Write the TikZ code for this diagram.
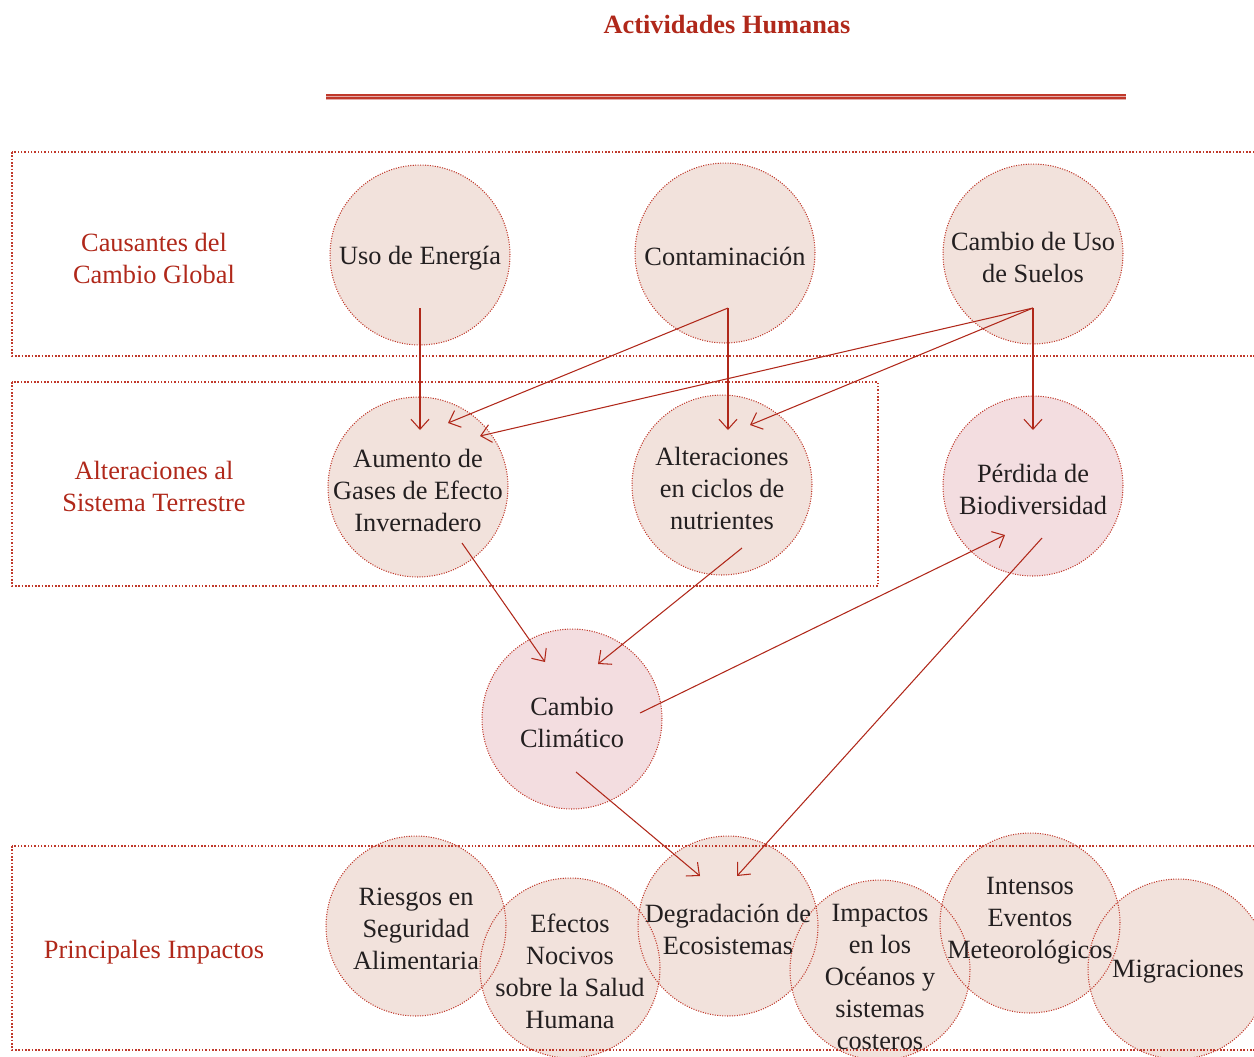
\documentclass[tikz,border=0pt]{standalone}
\usepackage{fontspec}
\setmainfont{Liberation Serif}
\usetikzlibrary{arrows.meta,backgrounds}
\definecolor{rojo}{HTML}{B0281A}
\definecolor{punteado}{HTML}{C0392B}
\definecolor{crema}{HTML}{F2E2DC}
\definecolor{rosa}{HTML}{F3DDE0}
\definecolor{tinta}{HTML}{231F20}
\newcommand{\fuente}{\fontsize{15}{18.2}\selectfont}
\begin{document}
\begin{tikzpicture}[x=0.02cm, y=-0.02cm,
    burbuja/.style = {circle, minimum size=3.6cm, inner sep=0pt, align=center, font=\fuente, text=tinta, yshift=-0.06cm},
    etiqueta/.style = {align=center, font=\fuente, text=rojo},
    marco/.style = {draw=punteado, line width=0.9pt, dash pattern=on 0.9pt off 1pt},
    contorno/.style = {draw=punteado, line width=0.6pt, dash pattern=on 0.6pt off 0.8pt},
    flecha/.style = {draw=rojo, line width=0.6pt, -{Straight Barb[length=2mm,width=3.6mm]}}]
    \useasboundingbox (0,0) rectangle (1254,1056);

    % Titulo y filete
    \node[font=\fontsize{15}{18}\selectfont\bfseries, text=rojo] (titulo) at (727,25) {Actividades Humanas};
    \fill[rosa!70!punteado] (326,95) rectangle (1126,99.5);
    \draw[punteado, line width=0.7pt] (326,95) -- (1126,95);
    \draw[punteado, line width=0.7pt] (326,98) -- (1126,98);

    % Etiquetas de los niveles
    \node[etiqueta] (causantes) at (154,258) {Causantes del\\Cambio Global};
    \node[etiqueta] (alteraciones) at (154,486) {Alteraciones al\\Sistema Terrestre};
    \node[etiqueta] (principales) at (154,952) {Principales Impactos};

    % Los nodos
    \node[burbuja] (uso) at (420,255) {Uso de Energ\'ia};
    \node[burbuja] (contam) at (725,253) {Contaminaci\'on};
    \node[burbuja] (suelos) at (1033,254) {Cambio de Uso\\de Suelos};

    \node[burbuja] (aumento) at (418,487) {Aumento de\\Gases de Efecto\\Invernadero};
    \node[burbuja] (ciclos) at (722,485) {Alteraciones\\en ciclos de\\nutrientes};
    \node[burbuja] (perdida) at (1033,486) {P\'erdida de\\Biodiversidad};

    \node[burbuja] (climatico) at (572,719) {Cambio\\Clim\'atico};

    \node[burbuja] (riesgos) at (416,926) {Riesgos en\\Seguridad\\Alimentaria};
    \node[burbuja] (efectos) at (570,968) {Efectos\\Nocivos\\sobre la Salud\\Humana};
    \node[burbuja] (degradacion) at (728,926) {Degradaci\'on de\\Ecosistemas};
    \node[burbuja] (oceanos) at (880,974) {Impactos\\en los\\Oc\'eanos y\\sistemas\\costeros};
    \node[burbuja] (eventos) at (1030,918) {Intensos\\Eventos\\Meteorol\'ogicos};
    \node[burbuja] (migraciones) at (1178,969) {Migraciones};

    % Rellenos, marcos y contornos detras del texto
    \begin{pgfonlayer}{background}
        \foreach \n in {uso, contam, suelos, aumento, ciclos, riesgos, efectos, degradacion, migraciones}
            \fill[crema] ([yshift=0.06cm]\n.center) circle (1.8cm);
        \fill[crema] ([yshift=0.14cm]oceanos.center) circle (1.8cm);
        \fill[crema] ([yshift=-0.04cm]eventos.center) circle (1.8cm);
        \foreach \n in {perdida, climatico}
            \fill[rosa] ([yshift=0.06cm]\n.center) circle (1.8cm);

        \draw[marco] (12,152) rectangle (1262,356);
        \draw[marco] (12,382) rectangle (878,586);
        \draw[marco] (12,846) rectangle (1262,1050);

        \foreach \n in {uso, contam, suelos, aumento, ciclos, perdida, climatico, riesgos, efectos, degradacion, migraciones}
            \draw[contorno] ([yshift=0.06cm]\n.center) circle (1.8cm);
        \draw[contorno] ([yshift=0.14cm]oceanos.center) circle (1.8cm);
        \draw[contorno] ([yshift=-0.04cm]eventos.center) circle (1.8cm);
    \end{pgfonlayer}

    % Las flechas
    \draw[flecha] ([shift={(0,50)}]uso.center) -- ([shift={(2,-60)}]aumento.center);
    \draw[flecha] ([shift={(3,52)}]contam.center) -- ([shift={(30,-67)}]aumento.center);
    \draw[flecha] ([shift={(3,52)}]contam.center) -- ([shift={(6,-58)}]ciclos.center);
    \draw[flecha] ([shift={(0,51)}]suelos.center) -- ([shift={(62,-54)}]aumento.center);
    \draw[flecha] ([shift={(0,51)}]suelos.center) -- ([shift={(28,-63)}]ciclos.center);
    \draw[flecha] ([shift={(0,51)}]suelos.center) -- ([shift={(0,-59)}]perdida.center);

    \draw[flecha] ([shift={(44,53)}]aumento.center) -- ([shift={(-27,-60)}]climatico.center);
    \draw[flecha] ([shift={(20,60)}]ciclos.center) -- ([shift={(26,-58)}]climatico.center);
    \draw[flecha] ([shift={(68,-9)}]climatico.center) -- ([shift={(-28,46)}]perdida.center);

    \draw[flecha] ([shift={(9,49)}]perdida.center) -- ([shift={(9,-53)}]degradacion.center);
    \draw[flecha] ([shift={(4,50)}]climatico.center) -- ([shift={(-28,-53)}]degradacion.center);

\end{tikzpicture}
\end{document}
